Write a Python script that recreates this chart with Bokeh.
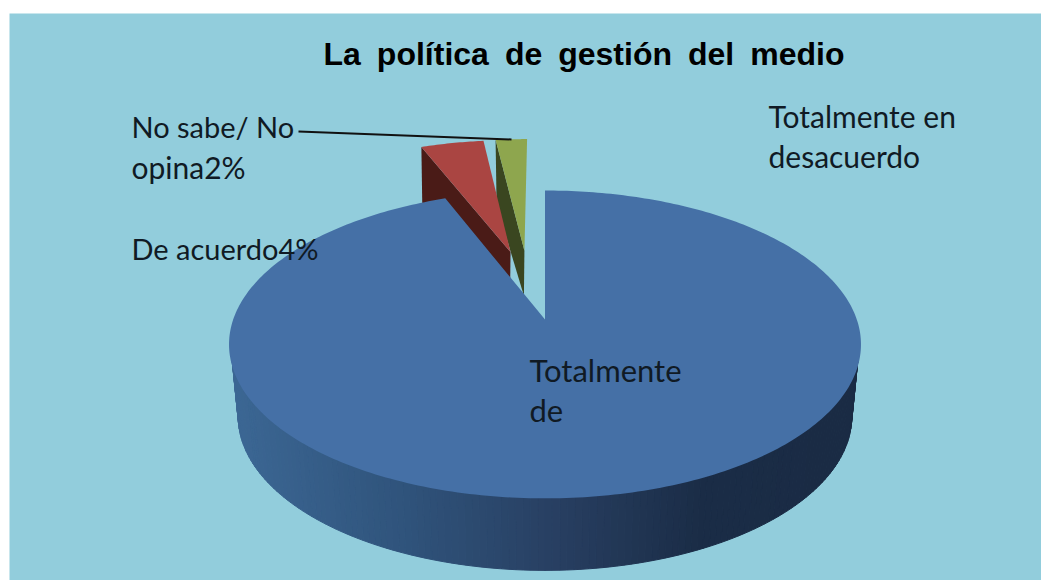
import math
from bokeh.plotting import figure
from bokeh.models import Range1d
from bokeh.core.properties import value
from bokeh.embed import file_html
from bokeh.resources import INLINE

# ---- data ----
categories = ["Totalmente de", "De acuerdo", "No sabe/ No opina"]
shares = [94, 4, 2]
top_colors = ["#4570a6", "#aa4542", "#8ea64e"]
side_colors = ["#2f4e74", "#4a1b17", "#3a4620"]
title_text = "La\u2002política\u2002de\u2002gestión\u2002del\u2002medio"

# ---- view ----
W, H = 1041, 580
p = figure(width=W, height=H, output_backend="svg", toolbar_location=None,
           x_range=Range1d(0, W), y_range=Range1d(H, 0),
           min_border=0, outline_line_color=None, background_fill_color="white",
           border_fill_color="white")
p.axis.visible = False
p.grid.visible = False

p.quad(left=9, right=W, top=13, bottom=H, fill_color="#92cddc", line_color=None)

# ---- perspective pie ----
AX, AY = 544.5, 319.0      # image of the disc centre
RX, RY, K = 311.8, 149.9, 0.162


def project(u, v, sx=1.0, dy=0.0):
    d = 1 + K * v
    return AX + sx * RX * u / d, AY + dy - RY * v / d


def rim(a0, a1, n=60):
    return [a0 + (a1 - a0) * i / n for i in range(n + 1)]


total = sum(shares)
angles = [0]
for s in shares:
    angles.append(angles[-1] + 360 * s / total)

# explosion of the two small slices (direction in degrees, distance in radii)
explode = [None, (-13.8, 0.50), (-8.2, 0.50)]
WEDGE_DEPTH = 45


def wedge_points(a0, a1, off, n=24):
    ou = off[0]; ov = off[1]
    pts = [project(ou, ov)]
    for a in rim(a0, a1, n):
        r = math.radians(a)
        pts.append(project(ou + math.sin(r), ov + math.cos(r)))
    return pts


# small slices: side face first, then the top face (green, red)
for i in (2, 1):
    d, dist = explode[i]
    off = (dist * math.sin(math.radians(d)), dist * math.cos(math.radians(d)))
    pts = wedge_points(angles[i], angles[i + 1], off)
    apex = pts[0]
    left = pts[1]      # rim point on the left
    xs = [left[0], left[0] + 1, apex[0] - 0.5, apex[0]]
    ys = [left[1], left[1] + WEDGE_DEPTH + 20, apex[1] + WEDGE_DEPTH, apex[1]]
    p.patch(xs, ys, fill_color=side_colors[i], line_color=None)
    p.patch([q[0] for q in pts], [q[1] for q in pts], fill_color=top_colors[i], line_color=None)


# side of the large slice: vertical shading strips
def lerp_color(x):
    stops = [(232, (60, 103, 148)), (400, (48, 84, 124)), (545, (41, 65, 100)),
             (700, (27, 45, 71)), (860, (26, 43, 68))]
    for (x0, c0), (x1, c1) in zip(stops, stops[1:]):
        if x <= x1:
            t = max(0, (x - x0) / (x1 - x0))
            return "#%02x%02x%02x" % tuple(int(c0[j] + (c1[j] - c0[j]) * t) for j in range(3))
    return "#%02x%02x%02x" % stops[-1][1]


SX_BOTTOM, DY_BOTTOM = 0.971, 72
tangent = math.degrees(math.acos(-K))
side_angles = rim(tangent, 360 - tangent, 140)
for a0, a1 in zip(side_angles, side_angles[1:]):
    r0, r1 = math.radians(a0), math.radians(a1)
    t0 = project(math.sin(r0), math.cos(r0), 0.995, -3)
    t1 = project(math.sin(r1), math.cos(r1), 0.995, -3)
    b0 = project(math.sin(r0), math.cos(r0), SX_BOTTOM, DY_BOTTOM)
    b1 = project(math.sin(r1), math.cos(r1), SX_BOTTOM, DY_BOTTOM)
    c = lerp_color((t0[0] + t1[0]) / 2)
    p.patch([t0[0], t1[0], b1[0], b0[0]], [t0[1], t1[1], b1[1], b0[1]],
            fill_color=c, line_color=c, line_width=1)

# top face of the large slice
main = wedge_points(angles[0], angles[1], (0, 0), 360)
p.patch([q[0] for q in main], [q[1] for q in main], fill_color=top_colors[0], line_color=None)

# ---- leader line ----
p.line([298, 511], [131, 139], line_color="#111111", line_width=2)

# ---- texts ----
p.text([583.5], [53], text=[title_text], text_font=value("Liberation Sans"),
       text_font_style="bold", text_font_size="32px", text_color="#000000",
       text_align="center", text_baseline="middle")

label_font = value("Lato")
labels = [
    (131, 126, "No sabe/ No", 29),
    (131, 166, "opina2%", 30),
    (131, 248, "De acuerdo4%", 29),
    (768, 115, "Totalmente en", 30),
    (768, 155, "desacuerdo", 30),
    (529, 369, "Totalmente", 31),
    (529, 409, "de", 31),
]
for lx, ly, lt, ls in labels:
    p.text([lx], [ly], text=[lt], text_font=label_font, text_font_size=f"{ls}px",
           text_color="#101a24", text_align="left", text_baseline="middle")

open("out.html", "w").write(file_html(p, INLINE))
